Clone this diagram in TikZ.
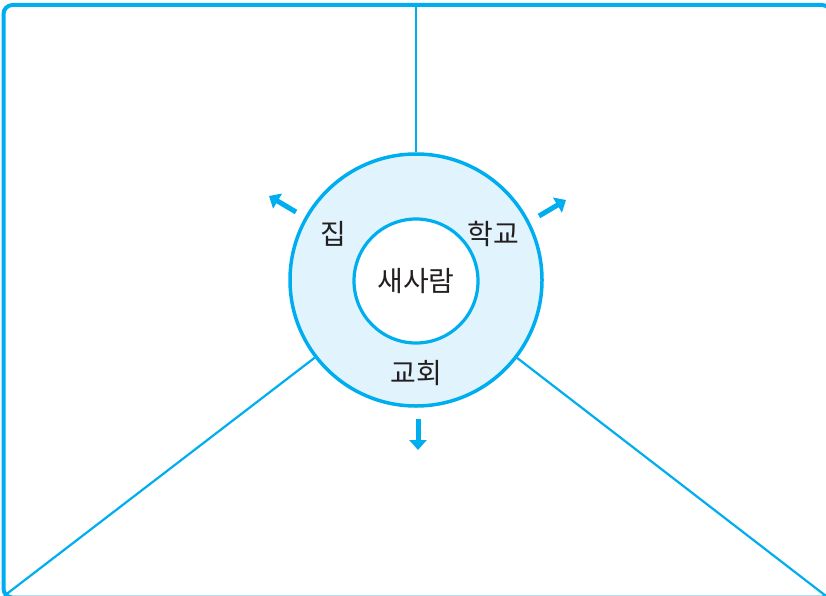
\documentclass[tikz,border=0pt]{standalone}
\usepackage{fontspec}
\setmainfont{Noto Sans CJK KR}
\usetikzlibrary{arrows.meta}
\definecolor{ringblue}{HTML}{00AEEF}
\definecolor{ringfill}{HTML}{E1F3FC}
\definecolor{inkgray}{HTML}{231F20}
\begin{document}
\begin{tikzpicture}[x=1pt,y=-1pt,
    frame/.style={draw=ringblue,line width=4pt,rounded corners=9pt},
    spoke/.style={draw=ringblue,line width=2.2pt},
    push/.style={draw=ringblue,line width=5pt,-{Triangle[length=10pt,width=17pt]}},
    word/.style={font=\fontsize{28}{32}\selectfont,text=inkgray,inner sep=0pt}]
    \useasboundingbox (0,0) rectangle (826,596);
    % Frame of the page
    \draw[frame] (3.5,5) rectangle (831,597.5);
    % Ring and core
    \node[circle,draw=ringblue,fill=ringfill,line width=3.5pt,minimum size=252pt,inner sep=0pt] (ring) at (416,280) {};
    \node[circle,draw=ringblue,fill=white,line width=3.2pt,minimum size=124pt,inner sep=0pt,word] (core) at (416,281) {새사람};
    % Ends of the spokes
    \coordinate (top) at (416,5);
    \coordinate (botleft) at (4,596);
    \coordinate (botright) at (826,596);
    \draw[spoke] (ring) -- (top);
    \draw[spoke] (ring) -- (botleft);
    \draw[spoke] (ring) -- (botright);
    % Labels in the ring
    \node[word] (home) at (333,234) {집};
    \node[word] (school) at (493,234) {학교};
    \node[word] (church) at (416,373) {교회};
    % Arrows pointing outwards
    \coordinate (tlfrom) at (296,212);
    \coordinate (tlto) at (269,196);
    \coordinate (trfrom) at (539,216);
    \coordinate (trto) at (566,200);
    \coordinate (bfrom) at (418,419);
    \coordinate (bto) at (418,450);
    \foreach \a/\b in {tlfrom/tlto, trfrom/trto, bfrom/bto}
        {
            \draw[push] (\a) -- (\b);
        }
\end{tikzpicture}
\end{document}
